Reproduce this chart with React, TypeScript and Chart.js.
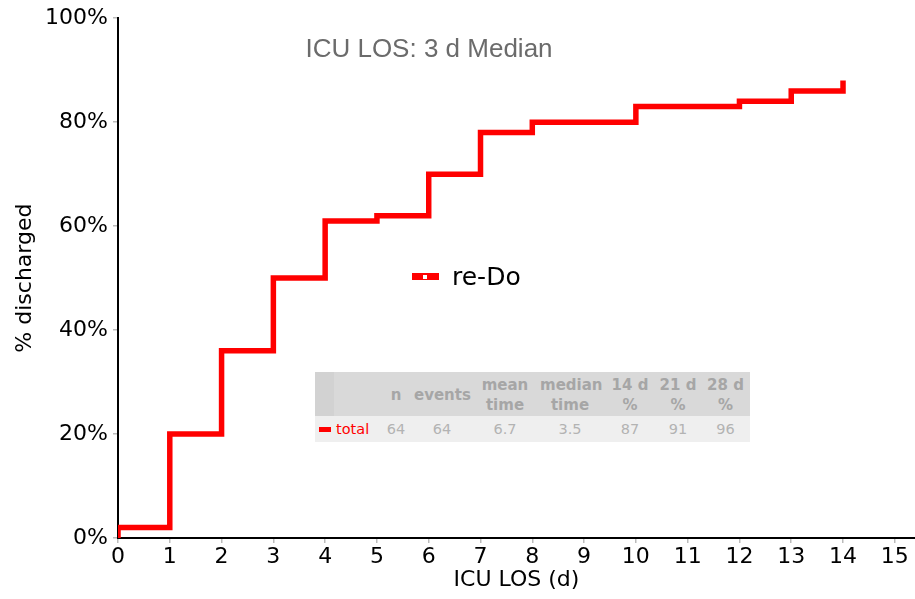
import React, { useEffect, useRef } from "react";
import { Chart, registerables } from "chart.js";

Chart.register(...registerables);

const days = [0, 0, 1, 2, 3, 4, 5, 6, 7, 8, 10, 12, 13, 14];
const discharged = [0, 2, 20, 36, 50, 61, 62, 70, 78, 80, 83, 84, 86, 88];
const xTickValues = [0, 1, 2, 3, 4, 5, 6, 7, 8, 9, 10, 11, 12, 13, 14, 15];
const yTickValues = [0, 20, 40, 60, 80, 100];

const titleText = "ICU LOS: 3 d Median";
const seriesName = "re-Do";
const tableHeaders = [["n"], ["events"], ["mean", "time"], ["median", "time"], ["14 d", "%"], ["21 d", "%"], ["28 d", "%"]];
const tableRowLabel = "total";
const tableRowValues = ["64", "64", "6.7", "3.5", "87", "91", "96"];

// layout of table columns (left, right) in px
const colBounds: [number, number][] = [
  [378, 414],
  [414, 470],
  [470, 540],
  [540, 600],
  [605, 655],
  [655, 701],
  [701, 750],
];

export default function App() {
  const canvasRef = useRef<HTMLCanvasElement | null>(null);

  useEffect(() => {
    const canvas = canvasRef.current;
    if (!canvas) return;
    const tickFont = { family: "'DejaVu Sans'", size: 22 };
    const chart = new Chart(canvas, {
      type: "line",
      data: {
        datasets: [
          {
            label: seriesName,
            data: days.map((d, i) => ({ x: d, y: discharged[i] })),
            borderColor: "#ff0000",
            backgroundColor: "#ff0000",
            borderWidth: 5.5,
            stepped: "before",
            pointRadius: 0,
            borderJoinStyle: "miter",
            borderCapStyle: "butt",
            fill: false,
          },
        ],
      },
      options: {
        responsive: false,
        devicePixelRatio: 1,
        animation: false,
        layout: { padding: { top: 16, right: 0, left: 0, bottom: 0 } },
        plugins: {
          legend: { display: false },
          tooltip: { enabled: false },
          title: { display: false },
        },
        scales: {
          x: {
            type: "linear",
            min: 0,
            max: 15.39,
            afterBuildTicks: (s: any) => {
              s.ticks = xTickValues.map((v) => ({ value: v }));
            },
            afterFit: (s: any) => {
              s.height = 61;
            },
            ticks: {
              color: "#000",
              font: tickFont,
              padding: 1,
              maxRotation: 0,
              autoSkip: false,
              callback: (v: any) => String(v),
            },
            grid: {
              display: true,
              drawOnChartArea: false,
              drawTicks: true,
              tickLength: 5,
              color: "#bbbbbb",
              lineWidth: 1.5,
            },
            border: { display: true, color: "#000", width: 2 },
            title: {
              display: true,
              text: "ICU LOS (d)",
              color: "#000",
              font: tickFont,
              padding: { top: 0, bottom: 6 },
            },
          },
          y: {
            type: "linear",
            min: 0,
            max: 100,
            afterBuildTicks: (s: any) => {
              s.ticks = yTickValues.map((v) => ({ value: v }));
            },
            afterFit: (s: any) => {
              s.width = 118;
            },
            ticks: {
              color: "#000",
              font: tickFont,
              padding: 5,
              callback: (v: any) => v + "%",
            },
            grid: {
              display: true,
              drawOnChartArea: false,
              drawTicks: true,
              tickLength: 5,
              color: "#bbbbbb",
              lineWidth: 1.5,
            },
            border: { display: true, color: "#000", width: 2 },
            title: {
              display: true,
              text: "% discharged",
              color: "#000",
              font: tickFont,
              padding: { top: 12, bottom: 0 },
            },
          },
        },
      },
    } as any);
    return () => chart.destroy();
  }, []);

  const headerText: React.CSSProperties = {
    position: "absolute",
    fontFamily: "'DejaVu Sans'",
    fontWeight: "bold",
    fontSize: 15,
    color: "#a6a6a6",
    textAlign: "center",
    lineHeight: "20px",
  };
  const rowText: React.CSSProperties = {
    position: "absolute",
    fontFamily: "'DejaVu Sans'",
    fontSize: 14.5,
    color: "#b3b3b3",
    textAlign: "center",
    lineHeight: "26px",
    top: 416,
    height: 26,
  };

  return (
    <div style={{ position: "absolute", left: 0, top: 0, width: 915, height: 599, background: "#fff", overflow: "hidden" }}>
      <canvas ref={canvasRef} width={915} height={599} style={{ position: "absolute", left: 0, top: 0, width: 915, height: 599 }} />
      {/* title */}
      <div
        style={{
          position: "absolute",
          left: 229,
          width: 400,
          top: 33,
          textAlign: "center",
          fontFamily: "'Liberation Sans'",
          fontSize: 26,
          lineHeight: "30px",
          color: "#6b6b6b",
          whiteSpace: "nowrap",
        }}
      >
        {titleText}
      </div>
      {/* legend */}
      <div style={{ position: "absolute", left: 412, top: 273, width: 27, height: 7, background: "#ff0000" }}>
        <div style={{ position: "absolute", left: 11, top: 1.5, width: 4, height: 4, background: "#fff" }} />
      </div>
      <div
        style={{
          position: "absolute",
          left: 452,
          top: 262,
          fontFamily: "'DejaVu Sans'",
          fontSize: 25,
          lineHeight: "30px",
          color: "#000",
          whiteSpace: "nowrap",
        }}
      >
        {seriesName}
      </div>
      {/* table */}
      <div style={{ position: "absolute", left: 315, top: 372, width: 435, height: 44, background: "#d9d9d9" }} />
      <div style={{ position: "absolute", left: 315, top: 372, width: 19, height: 44, background: "#d2d2d2" }} />
      <div style={{ position: "absolute", left: 315, top: 416, width: 435, height: 26, background: "#efefef" }} />
      {tableHeaders.map((lines, i) => {
        const [l, r] = colBounds[i];
        const h = lines.length * 20;
        return (
          <div key={"h" + i} style={{ ...headerText, left: l, width: r - l, top: 373 + (44 - h) / 2, height: h, whiteSpace: "nowrap" }}>
            {lines.map((t, j) => (
              <div key={j}>{t}</div>
            ))}
          </div>
        );
      })}
      <div style={{ position: "absolute", left: 319, top: 427, width: 12, height: 5, background: "#ff0000" }} />
      <div style={{ ...rowText, left: 336, color: "#ff0000", textAlign: "left", whiteSpace: "nowrap" }}>{tableRowLabel}</div>
      {tableRowValues.map((v, i) => {
        const [l, r] = colBounds[i];
        return (
          <div key={"v" + i} style={{ ...rowText, left: l, width: r - l }}>
            {v}
          </div>
        );
      })}
    </div>
  );
}
